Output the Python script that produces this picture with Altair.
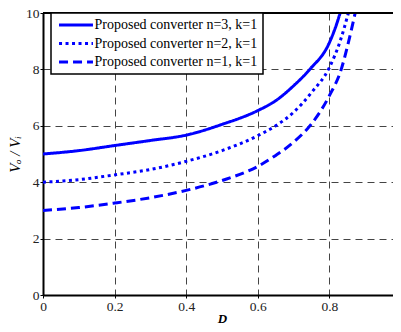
import altair as alt
import pandas as pd

series_names = ["Proposed converter n=3, k=1",
                "Proposed converter n=2, k=1",
                "Proposed converter n=1, k=1"]

d_n3 = [0.0, 0.1, 0.2, 0.3, 0.4, 0.5, 0.6, 0.65, 0.7, 0.745, 0.8, 0.82, 0.83]
v_n3 = [5.0, 5.12, 5.30, 5.48, 5.67, 6.05, 6.54, 6.89, 7.42, 8.0, 8.95, 9.6, 10.0]

d_n2 = [0.0, 0.1, 0.2, 0.3, 0.4, 0.5, 0.6, 0.65, 0.7, 0.75, 0.8, 0.83, 0.853]
v_n2 = [4.0, 4.09, 4.26, 4.45, 4.74, 5.12, 5.65, 6.0, 6.48, 7.18, 8.07, 9.0, 10.0]

d_n1 = [0.0, 0.1, 0.2, 0.3, 0.4, 0.5, 0.6, 0.65, 0.7, 0.75, 0.8, 0.833, 0.85, 0.872]
v_n1 = [3.0, 3.1, 3.26, 3.45, 3.71, 4.06, 4.56, 4.95, 5.42, 6.07, 7.07, 8.0, 8.8, 10.0]

x_ticks = [0, 0.2, 0.4, 0.6, 0.8, 1]
y_ticks = [0, 2, 4, 6, 8, 10]

rows = []
for name, ds, vs in zip(series_names, [d_n3, d_n2, d_n1], [v_n3, v_n2, v_n1]):
    for i, (d, v) in enumerate(zip(ds, vs)):
        rows.append({"series": name, "D": d, "V": v, "i": i})
df = pd.DataFrame(rows)

FONT = "Times New Roman, Liberation Serif, serif"

x_enc = alt.X("D:Q", scale=alt.Scale(domain=[0, 1], nice=False),
              axis=alt.Axis(values=x_ticks, title="D", titleFontStyle="italic",
                            titleFontWeight="bold", titleFont=FONT, titleFontSize=13,
                            titleBaseline="alphabetic", titleY=27,
                            labelFont=FONT, labelFontSize=13.5,
                            labelColor="#222", labelPadding=1, tickSize=3,
                            tickColor="black", domainColor="black", domainWidth=2,
                            grid=True, gridDash=[7, 5], gridColor="#444",
                            gridWidth=1, labelFlush=False,
                            labelExpr="datum.value == 0 ? '0' : datum.value == 1 ? '1' : format(datum.value, '.1f')"))
y_enc = alt.Y("V:Q", scale=alt.Scale(domain=[0, 10], nice=False),
              axis=alt.Axis(values=y_ticks, title="Vₒ / Vᵢ", titleFontStyle="italic",
                            titleFontWeight="normal", titleFont=FONT, titleFontSize=15,
                            titlePadding=3, labelFont=FONT, labelFontSize=13.5,
                            labelColor="#222", labelPadding=1, tickSize=3,
                            tickColor="black", domainColor="black", domainWidth=2,
                            grid=True, gridDash=[7, 5], gridColor="#444", gridWidth=1))

legend_cfg = dict(title=None, orient="none", legendX=8, legendY=0,
                  fillColor="white", strokeColor="black",
                  padding=5, rowPadding=4.5, labelLimit=400,
                  symbolType="M-4,0H4", symbolSize=72, symbolOffset=13,
                  symbolStrokeWidth=3, labelFont=FONT,
                  labelFontSize=14, labelColor="black", labelOffset=11.5)

lines = alt.Chart(df).mark_line(strokeWidth=3, interpolate="monotone", clip=True).encode(
    x=x_enc,
    y=y_enc,
    order="i:Q",
    color=alt.Color("series:N", sort=series_names,
                    scale=alt.Scale(domain=series_names, range=["#0000FF"] * 3),
                    legend=alt.Legend(**legend_cfg)),
    strokeDash=alt.StrokeDash("series:N", sort=series_names,
                              scale=alt.Scale(domain=series_names,
                                              range=[[1, 0], [3, 3.5], [9, 5]]),
                              legend=alt.Legend(**legend_cfg)),
)

top_border = alt.Chart(pd.DataFrame({"D": [0, 1]})).mark_rule(color="black", strokeWidth=2).encode(
    x=alt.X("min(D):Q"), x2=alt.X2("max(D):Q"), y=alt.value(0)
)

chart = alt.layer(lines, top_border).properties(
    width=358, height=282,
    autosize=alt.AutoSizeParams(type="none"),
    padding={"left": 35, "top": 5, "right": -8, "bottom": 29},
).configure_view(stroke=None).configure(background="white", font=FONT).configure_legend(
    strokeWidth=1.5
)

chart.save("out.html", embed_options={"renderer": "svg", "actions": False})
